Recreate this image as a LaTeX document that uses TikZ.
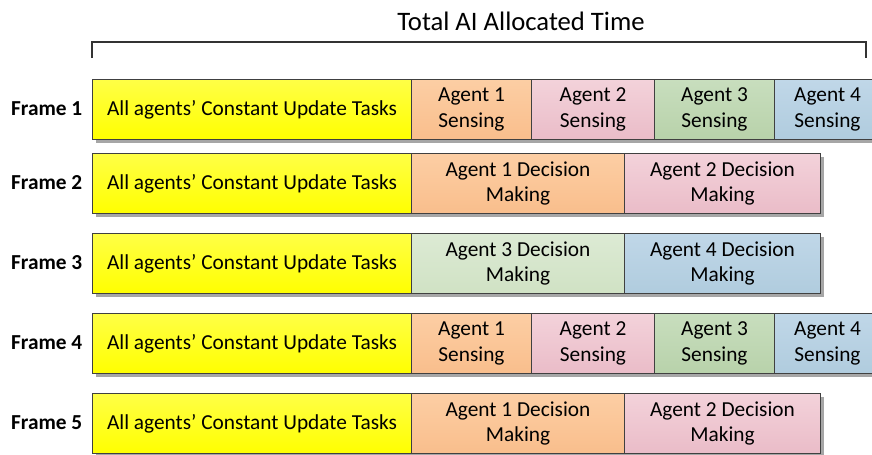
\documentclass[tikz,border=0pt]{standalone}
\usepackage{fontspec}
\setmainfont{Carlito}
\usetikzlibrary{shadows}

\definecolor{updtop}{RGB}{255,255,70}
\definecolor{updbot}{RGB}{255,255,0}
\definecolor{ag1top}{RGB}{252,206,164}
\definecolor{ag1bot}{RGB}{249,190,140}
\definecolor{ag2top}{RGB}{243,210,218}
\definecolor{ag2bot}{RGB}{234,188,200}
\definecolor{ag3top}{RGB}{200,222,190}
\definecolor{ag3bot}{RGB}{184,210,170}
\definecolor{ag4top}{RGB}{192,215,232}
\definecolor{ag4bot}{RGB}{176,204,222}
\definecolor{ag3dtop}{RGB}{220,234,212}
\definecolor{ag3dbot}{RGB}{208,226,196}

\tikzset{
	seg/.style={rectangle,draw=black!75,line width=0.75pt,anchor=north west,
		minimum height=45pt,inner sep=0pt,align=center,
		font=\fontsize{16}{19}\selectfont,
		general shadow={fill=black!35,shadow xshift=2.5pt,shadow yshift=-2.5pt}},
	upd/.style={seg,minimum width=239.25pt,top color=updtop,bottom color=updbot},
	sens/.style={seg,minimum width=90pt},
	dec/.style={seg,minimum width=159.75pt},
	frm/.style={anchor=east,font=\bfseries\fontsize{16}{19}\selectfont},
}

\begin{document}
\begin{tikzpicture}[x=0.75pt,y=-0.75pt]
	\useasboundingbox (0,0) rectangle (872,454);
	\clip (0,0) rectangle (872,454);
	
	% total time bracket
	\coordinate (tl) at (92,58);
	\coordinate (tr) at (866,58);
	\draw[black!80,line width=1pt] (tl) -- ++(0,-16) -| (tr);
	\node[font=\fontsize{20}{24}\selectfont] (title) at (521,21) {Total AI Allocated Time};
	
	% frame 1
	\node[frm] (f1) at (87,109) {Frame 1};
	\node[upd] (u1) at (92,79) {All agents' Constant Update Tasks};
	\node[sens,top color=ag1top,bottom color=ag1bot] (s11) at (411,79) {Agent 1\\Sensing};
	\node[sens,minimum width=92.25pt,top color=ag2top,bottom color=ag2bot] (s12) at (531,79) {Agent 2\\Sensing};
	\node[sens,top color=ag3top,bottom color=ag3bot] (s13) at (654,79) {Agent 3\\Sensing};
	\node[sens,minimum width=79.5pt,top color=ag4top,bottom color=ag4bot] (s14) at (774,79) {Agent 4\\Sensing};
	
	% frame 2
	\node[frm] (f2) at (87,183) {Frame 2};
	\node[upd] (u2) at (92,153) {All agents' Constant Update Tasks};
	\node[dec,top color=ag1top,bottom color=ag1bot] (d21) at (411,153) {Agent 1 Decision\\Making};
	\node[dec,minimum width=147pt,top color=ag2top,bottom color=ag2bot] (d22) at (624,153) {Agent 2 Decision\\Making};
	
	% frame 3
	\node[frm] (f3) at (87,263) {Frame 3};
	\node[upd] (u3) at (92,233) {All agents' Constant Update Tasks};
	\node[dec,top color=ag3dtop,bottom color=ag3dbot] (d33) at (411,233) {Agent 3 Decision\\Making};
	\node[dec,minimum width=147pt,top color=ag4top,bottom color=ag4bot] (d34) at (624,233) {Agent 4 Decision\\Making};
	
	% frame 4
	\node[frm] (f4) at (87,343) {Frame 4};
	\node[upd] (u4) at (92,313) {All agents' Constant Update Tasks};
	\node[sens,top color=ag1top,bottom color=ag1bot] (s41) at (411,313) {Agent 1\\Sensing};
	\node[sens,minimum width=92.25pt,top color=ag2top,bottom color=ag2bot] (s42) at (531,313) {Agent 2\\Sensing};
	\node[sens,top color=ag3top,bottom color=ag3bot] (s43) at (654,313) {Agent 3\\Sensing};
	\node[sens,minimum width=79.5pt,top color=ag4top,bottom color=ag4bot] (s44) at (774,313) {Agent 4\\Sensing};
	
	% frame 5
	\node[frm] (f5) at (87,423) {Frame 5};
	\node[upd] (u5) at (92,393) {All agents' Constant Update Tasks};
	\node[dec,top color=ag1top,bottom color=ag1bot] (d51) at (411,393) {Agent 1 Decision\\Making};
	\node[dec,minimum width=147pt,top color=ag2top,bottom color=ag2bot] (d52) at (624,393) {Agent 2 Decision\\Making};
\end{tikzpicture}
\end{document}
